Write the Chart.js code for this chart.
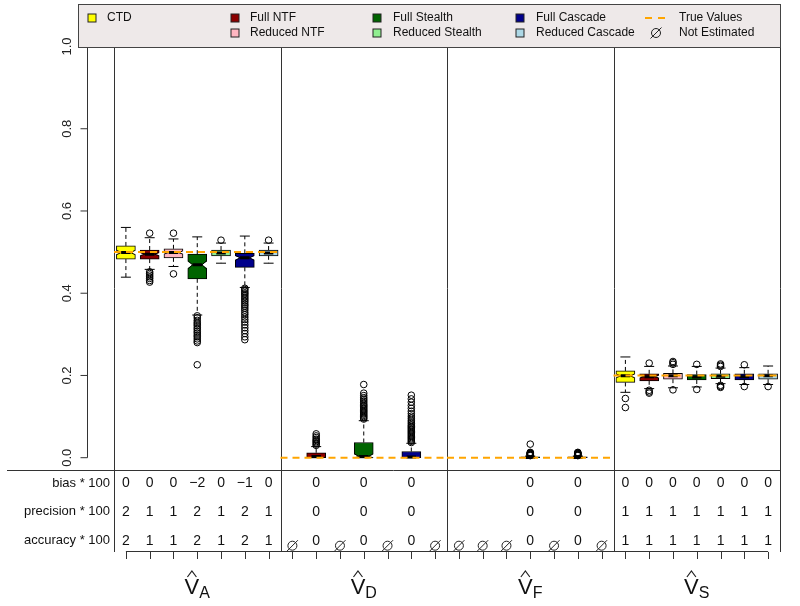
<!DOCTYPE html>
<html>
<head>
<meta charset="utf-8">
<script src="https://cdn.jsdelivr.net/npm/chart.js@4.4.0/dist/chart.umd.min.js"></script>
<style>
  body { margin: 0; background: #fff; }
</style>
</head>
<body>
<canvas id="chart" width="800" height="606"></canvas>
<script>
const methods = ['CTD', 'Full NTF', 'Reduced NTF', 'Full Stealth', 'Reduced Stealth', 'Full Cascade', 'Reduced Cascade'];
const groups = ['A', 'D', 'F', 'S'];
const trueValues = [0.5, 0, 0, 0.2];
const yTicks = [0, 0.2, 0.4, 0.6, 0.8, 1.0];
const rowLabels = ['bias * 100', 'precision * 100', 'accuracy * 100'];

// [lower whisker, q1, median, q3, upper whisker]; null = not estimated
const boxesA = [
  [0.439, 0.483, 0.499, 0.515, 0.560],
  [0.458, 0.483, 0.495, 0.505, 0.535],
  [0.465, 0.486, 0.499, 0.508, 0.532],
  [0.347, 0.435, 0.469, 0.495, 0.537],
  [0.473, 0.491, 0.498, 0.505, 0.522],
  [0.414, 0.463, 0.486, 0.497, 0.539],
  [0.473, 0.491, 0.498, 0.505, 0.522]
];
const boxesD = [
  null,
  [0, 0, 0.003, 0.012, 0.027],
  null,
  [0, 0, 0.003, 0.037, 0.090],
  null,
  [0, 0, 0.002, 0.015, 0.035],
  null
];
const boxesF = [
  null, null, null,
  [0, 0, 0.0005, 0.002, 0.004],
  null,
  [0, 0, 0.0005, 0.002, 0.004],
  null
];
const boxesS = [
  [0.159, 0.183, 0.199, 0.211, 0.245],
  [0.168, 0.187, 0.197, 0.204, 0.222],
  [0.170, 0.191, 0.199, 0.205, 0.223],
  [0.172, 0.189, 0.196, 0.202, 0.222],
  [0.180, 0.192, 0.198, 0.204, 0.218],
  [0.178, 0.189, 0.197, 0.204, 0.219],
  [0.178, 0.191, 0.199, 0.204, 0.223]
];

const outliersA = [
  [],
  [0.546, 0.452, 0.448, 0.444, 0.440, 0.436, 0.431, 0.427],
  [0.546, 0.447],
  [0.345, 0.340, 0.334, 0.329, 0.325, 0.321, 0.316, 0.312, 0.307, 0.303, 0.298, 0.294, 0.289, 0.284, 0.280, 0.226],
  [0.529],
  [0.412, 0.409, 0.405, 0.401, 0.398, 0.394, 0.390, 0.386, 0.382, 0.378, 0.373, 0.369, 0.364, 0.359, 0.353, 0.348, 0.342, 0.336, 0.330, 0.323, 0.316, 0.309, 0.302, 0.294, 0.287],
  [0.529]
];
const outliersD = [
  [],
  [0.030, 0.033, 0.036, 0.039, 0.042, 0.045, 0.049, 0.053, 0.058],
  [],
  [0.094, 0.097, 0.100, 0.103, 0.106, 0.109, 0.112, 0.115, 0.118, 0.121, 0.124, 0.127, 0.130, 0.134, 0.138, 0.142, 0.146, 0.151, 0.157, 0.178],
  [],
  [0.037, 0.040, 0.043, 0.046, 0.049, 0.052, 0.055, 0.058, 0.061, 0.064, 0.067, 0.070, 0.073, 0.076, 0.079, 0.083, 0.087, 0.091, 0.096, 0.101, 0.107, 0.113, 0.120, 0.127, 0.135, 0.143, 0.152],
  []
];
const outliersF = [
  [], [], [],
  [0.005, 0.006, 0.007, 0.008, 0.009, 0.010, 0.011, 0.012, 0.013, 0.033],
  [],
  [0.005, 0.006, 0.007, 0.008, 0.009, 0.010, 0.011, 0.012, 0.013],
  []
];
const outliersS = [
  [0.144, 0.122],
  [0.230, 0.164, 0.160, 0.157],
  [0.227, 0.231, 0.234, 0.165],
  [0.227, 0.166],
  [0.222, 0.225, 0.228, 0.176, 0.173, 0.171],
  [0.226, 0.173],
  [0.173]
];

// table rows, 'NE' = not estimated
const biasRow = [0, 0, 0, -2, 0, -1, 0, null, 0, null, 0, null, 0, null, null, null, null, 0, null, 0, null, 0, 0, 0, 0, 0, 0, 0];
const precisionRow = [2, 1, 1, 2, 1, 2, 1, null, 0, null, 0, null, 0, null, null, null, null, 0, null, 0, null, 1, 1, 1, 1, 1, 1, 1];
const accuracyRow = [2, 1, 1, 2, 1, 2, 1, 'NE', 0, 'NE', 0, 'NE', 0, 'NE', 'NE', 'NE', 'NE', 0, 'NE', 0, 'NE', 1, 1, 1, 1, 1, 1, 1];

const colors = ['#FFFF00', '#8B0000', '#FFB6C1', '#006400', '#90EE90', '#00008B', '#ADD8E6'];
const FONT = "'Liberation Sans', Arial, sans-serif";
const LINE = '#333';

// layout (pixels)
const plotTop = 25, axisY = 552, zeroY = 457.7, unitPx = 411.2;
const sepY = 470.5;
const rowY = [483.3, 511.7, 540.7];
const barW = 19;

const allBoxes = [boxesA, boxesD, boxesF, boxesS];
const allOut = [outliersA, outliersD, outliersF, outliersS];
const slots = [];
allBoxes.forEach((grp, g) => grp.forEach((b, m) => slots.push({ x: g * 7 + m, m, b, out: allOut[g][m] })));
const est = slots.filter(s => s.b);

const boxSets = methods.map((name, m) => ({
  type: 'bar', label: name, order: 5,
  data: est.filter(s => s.m === m).map(s => ({ x: s.x, y: [s.b[1], s.b[3]] })),
  backgroundColor: colors[m], borderColor: '#000', borderWidth: 1, borderSkipped: false,
  barThickness: barW, grouped: false
}));

const whiskers = [], staples = [], medians = [], points = [];
est.forEach(s => {
  const [lo, q1, md, q3, hi] = s.b;
  whiskers.push({ x: s.x, y: q3 }, { x: s.x, y: hi }, { x: s.x, y: null },
                { x: s.x, y: q1 }, { x: s.x, y: lo }, { x: s.x, y: null });
  staples.push({ x: s.x - 0.21, y: hi }, { x: s.x + 0.21, y: hi }, { x: s.x + 0.21, y: null },
               { x: s.x - 0.21, y: lo }, { x: s.x + 0.21, y: lo }, { x: s.x + 0.21, y: null });
  medians.push({ x: s.x - 0.2, y: md }, { x: s.x + 0.2, y: md }, { x: s.x + 0.2, y: null });
  s.out.forEach(v => points.push({ x: s.x, y: v }));
});

const lineBase = { type: 'line', pointRadius: 0, borderColor: '#000', borderWidth: 1, spanGaps: false };
const trueSets = trueValues.map((tv, g) => ({
  ...lineBase, order: 1, borderColor: '#FFA500', borderWidth: 2, borderDash: [7, 5],
  data: [{ x: g * 7 - 0.5, y: tv }, { x: g * 7 + 6.5, y: tv }]
}));

function seg(ctx, x1, y1, x2, y2) {
  ctx.beginPath(); ctx.moveTo(x1, y1); ctx.lineTo(x2, y2); ctx.stroke();
}
function drawEmpty(ctx, cx, cy) {
  ctx.beginPath(); ctx.arc(cx, cy, 4.5, 0, Math.PI * 2); ctx.stroke();
  seg(ctx, cx - 5.5, cy + 5.5, cx + 5.5, cy - 5.5);
}

const frame = {
  id: 'frame',
  beforeDatasetsDraw(chart) {
    const { ctx, scales: { x, y } } = chart;
    ctx.save();
    ctx.strokeStyle = LINE; ctx.lineWidth = 1;
    [-0.5, 6.5, 13.5, 20.5, 27.5].forEach(v => {
      const px = Math.round(x.getPixelForValue(v)) + 0.5;
      seg(ctx, px, plotTop, px, axisY);
    });
    seg(ctx, 7, sepY, x.getPixelForValue(27.5), sepY);
    // bottom axis
    const bx0 = x.getPixelForValue(0), bx1 = x.getPixelForValue(27);
    seg(ctx, bx0, axisY - 0.5, bx1, axisY - 0.5);
    for (let i = 0; i < 28; i++) {
      const px = Math.round(x.getPixelForValue(i)) + 0.5;
      seg(ctx, px, axisY, px, axisY + 7);
    }
    // y axis
    const ax = 87.5;
    seg(ctx, ax, y.getPixelForValue(0), ax, y.getPixelForValue(1));
    ctx.fillStyle = '#222';
    ctx.font = '13px ' + FONT;
    ctx.textAlign = 'center'; ctx.textBaseline = 'middle';
    yTicks.forEach(t => {
      const py = y.getPixelForValue(t);
      seg(ctx, ax - 7, py, ax, py);
      ctx.save();
      ctx.translate(67, py); ctx.rotate(-Math.PI / 2);
      ctx.fillText(t.toFixed(1), 0, 0);
      ctx.restore();
    });
    ctx.restore();
  },
  afterDatasetDraw(chart, args) {
    const ds = chart.data.datasets[args.index];
    if (ds.type !== 'bar') return;
    const { ctx, scales: { x, y } } = chart;
    const m = methods.indexOf(ds.label);
    ctx.save();
    ctx.strokeStyle = '#000'; ctx.lineWidth = 1;
    est.filter(s => s.m === m).forEach(s => {
      const [, q1, md, q3] = s.b;
      const n = 1.58 * (q3 - q1) / Math.sqrt(100);
      const yt = y.getPixelForValue(Math.min(q3, md + n));
      const yb = y.getPixelForValue(Math.max(q1, md - n));
      const ym = y.getPixelForValue(md);
      if (yb - yt < 2) return;
      const cx = x.getPixelForValue(s.x);
      [-1, 1].forEach(side => {
        const xe = cx + side * barW / 2;
        const xi = cx + side * barW / 4;
        ctx.fillStyle = '#fff';
        ctx.beginPath();
        ctx.moveTo(xe + side, yt); ctx.lineTo(xi, ym); ctx.lineTo(xe + side, yb);
        ctx.closePath(); ctx.fill();
        ctx.beginPath();
        ctx.moveTo(xe - side * 0.5, yt); ctx.lineTo(xi, ym); ctx.lineTo(xe - side * 0.5, yb);
        ctx.stroke();
      });
    });
    ctx.restore();
  },
  afterDraw(chart) {
    const { ctx, scales: { x } } = chart;
    ctx.save();
    ctx.fillStyle = '#111'; ctx.strokeStyle = '#222'; ctx.lineWidth = 1;
    ctx.font = '13px ' + FONT;
    ctx.textBaseline = 'middle';
    ctx.textAlign = 'right';
    rowLabels.forEach((l, r) => ctx.fillText(l, 110, rowY[r]));
    ctx.textAlign = 'center';
    ctx.font = '14px ' + FONT;
    [biasRow, precisionRow, accuracyRow].forEach((row, r) => {
      row.forEach((v, i) => {
        if (v === null) return;
        const px = x.getPixelForValue(i);
        if (v === 'NE') drawEmpty(ctx, px, 545.7);
        else ctx.fillText(v < 0 ? '\u2212' + Math.abs(v) : String(v), px, rowY[r]);
      });
    });
    // group labels: hat(V)[g]
    ctx.textBaseline = 'alphabetic'; ctx.textAlign = 'left';
    groups.forEach((gName, g) => {
      const c = x.getPixelForValue(g * 7 + 3);
      ctx.font = '22px ' + FONT;
      const wV = ctx.measureText('V').width;
      ctx.font = '16px ' + FONT;
      const wS = ctx.measureText(gName).width;
      const x0 = c - (wV + wS) / 2;
      ctx.font = '22px ' + FONT;
      ctx.fillText('V', x0, 594);
      ctx.font = '16px ' + FONT;
      ctx.fillText(gName, x0 + wV, 598);
      const vc = x0 + wV / 2;
      ctx.lineWidth = 1.2;
      ctx.beginPath(); ctx.moveTo(vc - 4.5, 577); ctx.lineTo(vc, 571); ctx.lineTo(vc + 4.5, 577); ctx.stroke();
      ctx.lineWidth = 1;
    });
    // legend
    ctx.fillStyle = '#EEE9E9'; ctx.strokeStyle = '#444';
    ctx.fillRect(78.5, 4.5, 702, 43);
    ctx.strokeRect(78.5, 4.5, 702, 43);
    ctx.font = '12px ' + FONT; ctx.textBaseline = 'middle';
    const rowsY = [18, 33];
    const items = [
      { m: 0, sx: 92, tx: 107, r: 0 },
      { m: 1, sx: 235, tx: 250, r: 0 }, { m: 2, sx: 235, tx: 250, r: 1 },
      { m: 3, sx: 377, tx: 393, r: 0 }, { m: 4, sx: 377, tx: 393, r: 1 },
      { m: 5, sx: 520, tx: 536, r: 0 }, { m: 6, sx: 520, tx: 536, r: 1 }
    ];
    items.forEach(it => {
      const yy = rowsY[it.r];
      ctx.fillStyle = colors[it.m];
      ctx.fillRect(it.sx - 4, yy - 4, 8, 8);
      ctx.strokeStyle = '#222';
      ctx.strokeRect(it.sx - 4, yy - 4, 8, 8);
      ctx.fillStyle = '#111';
      ctx.fillText(methods[it.m], it.tx, yy);
    });
    ctx.strokeStyle = '#FFA500'; ctx.lineWidth = 2; ctx.setLineDash([7, 6]);
    seg(ctx, 645, rowsY[0], 665, rowsY[0]);
    ctx.setLineDash([]); ctx.lineWidth = 1; ctx.strokeStyle = '#222';
    drawEmpty(ctx, 656, rowsY[1]);
    ctx.fillStyle = '#111';
    ctx.fillText('True Values', 679, rowsY[0]);
    ctx.fillText('Not Estimated', 679, rowsY[1]);
    ctx.restore();
  }
};

new Chart(document.getElementById('chart'), {
  type: 'bar',
  data: {
    datasets: [
      { type: 'scatter', order: 0, data: points, pointRadius: 3.3, borderWidth: 1, borderColor: '#000', backgroundColor: 'rgba(0,0,0,0)', pointHoverRadius: 3.3 },
      ...trueSets,
      { ...lineBase, order: 2, data: medians, borderWidth: 3 },
      { ...lineBase, order: 3, data: staples },
      { ...lineBase, order: 4, data: whiskers, borderDash: [4, 3] },
      ...boxSets
    ]
  },
  options: {
    responsive: false,
    animation: false,
    devicePixelRatio: 1,
    layout: { padding: { left: 114, right: 20, top: plotTop, bottom: 606 - axisY } },
    plugins: { legend: { display: false }, tooltip: { enabled: false } },
    scales: {
      x: { type: 'linear', min: -0.5, max: 27.5, display: false, offset: false },
      y: { type: 'linear', min: -(axisY - zeroY) / unitPx, max: (zeroY - plotTop) / unitPx, display: false }
    }
  },
  plugins: [frame]
});
</script>
</body>
</html>
